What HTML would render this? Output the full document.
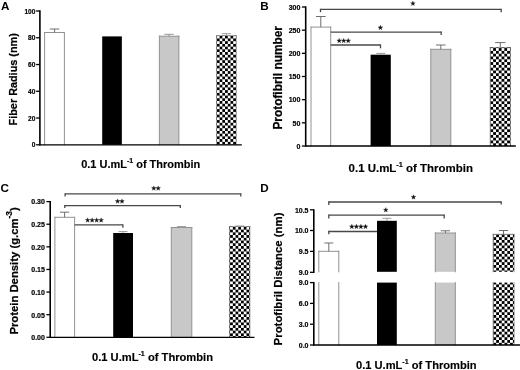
<!DOCTYPE html>
<html><head><meta charset="utf-8"><title>Figure</title>
<style>html,body{margin:0;padding:0;background:#fff;}body{width:520px;height:370px;overflow:hidden;font-family:"Liberation Sans",sans-serif;}svg{display:block;will-change:transform;filter:blur(0.4px);}</style>
</head><body>
<svg width="520" height="370" viewBox="0 0 520 370" font-family='"Liberation Sans", sans-serif'>
<rect width="520" height="370" fill="#fff"/>
<defs>
<pattern id="pa" x="216.9" y="35.75" width="5.44" height="5.44" patternUnits="userSpaceOnUse"><rect width="5.44" height="5.44" fill="#fff"/><rect x="2.72" y="0" width="2.72" height="2.72" fill="#000"/><rect x="0" y="2.72" width="2.72" height="2.72" fill="#000"/></pattern>
<pattern id="pb" x="490.35" y="48.1" width="5.6" height="5.6" patternUnits="userSpaceOnUse"><rect width="5.6" height="5.6" fill="#fff"/><rect x="2.8" y="0" width="2.8" height="2.8" fill="#000"/><rect x="0" y="2.8" width="2.8" height="2.8" fill="#000"/></pattern>
<pattern id="pc" x="230.1" y="226.9" width="5.46" height="5.46" patternUnits="userSpaceOnUse"><rect width="5.46" height="5.46" fill="#fff"/><rect x="2.73" y="0" width="2.73" height="2.73" fill="#000"/><rect x="0" y="2.73" width="2.73" height="2.73" fill="#000"/></pattern>
<pattern id="pd" x="493.4" y="234.4" width="5.56" height="5.56" patternUnits="userSpaceOnUse"><rect width="5.56" height="5.56" fill="#fff"/><rect x="2.78" y="0" width="2.78" height="2.78" fill="#000"/><rect x="0" y="2.78" width="2.78" height="2.78" fill="#000"/></pattern>
</defs>
<text x="1" y="9.8" font-size="11.7" font-weight="bold" text-anchor="start" fill="#000" >A</text>
<rect x="44.6" y="32.5" width="19.8" height="112.3" fill="#fff"/>
<path d="M44.6 144.8V32.5M44.6 32.5H64.4M64.4 32.5V144.8" fill="none" stroke="#929292" stroke-width="1.0" stroke-linecap="square"/>
<line x1="54.6" y1="29" x2="54.6" y2="32.5" stroke="#6e6e6e" stroke-width="1.0"/>
<line x1="49.9" y1="29" x2="59.3" y2="29" stroke="#6e6e6e" stroke-width="1.0"/>
<rect x="102.2" y="36.4" width="19.65" height="108.4" fill="#000"/>
<rect x="159.4" y="36.2" width="19.5" height="108.6" fill="#c8c8c8"/>
<path d="M159.4 144.8V36.2M159.4 36.2H178.9M178.9 36.2V144.8" fill="none" stroke="#929292" stroke-width="1.0" stroke-linecap="square"/>
<line x1="169" y1="34.3" x2="169" y2="36.2" stroke="#808080" stroke-width="0.8"/>
<line x1="164.3" y1="34.3" x2="173.7" y2="34.3" stroke="#808080" stroke-width="0.8"/>
<rect x="216.6" y="35.7" width="19.6" height="109.1" fill="url(#pa)"/>
<path d="M216.6 144.8V35.7M216.6 35.7H236.2M236.2 35.7V144.8" fill="none" stroke="#444" stroke-width="0.5" stroke-linecap="square"/>
<line x1="226.4" y1="33.7" x2="226.4" y2="35.7" stroke="#858585" stroke-width="0.8"/>
<line x1="221.8" y1="33.7" x2="231" y2="33.7" stroke="#858585" stroke-width="0.8"/>
<line x1="39.9" y1="10.35" x2="39.9" y2="145.6" stroke="#000" stroke-width="1.6"/>
<line x1="36.1" y1="144.8" x2="39.9" y2="144.8" stroke="#000" stroke-width="1.3"/>
<text x="35.4" y="147.48" font-size="6.6" font-weight="bold" text-anchor="end" fill="#000" stroke="#000" stroke-width="0.18">0</text>
<line x1="36.1" y1="118.04" x2="39.9" y2="118.04" stroke="#000" stroke-width="1.3"/>
<text x="35.4" y="120.72" font-size="6.6" font-weight="bold" text-anchor="end" fill="#000" stroke="#000" stroke-width="0.18">20</text>
<line x1="36.1" y1="91.28" x2="39.9" y2="91.28" stroke="#000" stroke-width="1.3"/>
<text x="35.4" y="93.96" font-size="6.6" font-weight="bold" text-anchor="end" fill="#000" stroke="#000" stroke-width="0.18">40</text>
<line x1="36.1" y1="64.52" x2="39.9" y2="64.52" stroke="#000" stroke-width="1.3"/>
<text x="35.4" y="67.2" font-size="6.6" font-weight="bold" text-anchor="end" fill="#000" stroke="#000" stroke-width="0.18">60</text>
<line x1="36.1" y1="37.76" x2="39.9" y2="37.76" stroke="#000" stroke-width="1.3"/>
<text x="35.4" y="40.44" font-size="6.6" font-weight="bold" text-anchor="end" fill="#000" stroke="#000" stroke-width="0.18">80</text>
<line x1="36.1" y1="11" x2="39.9" y2="11" stroke="#000" stroke-width="1.3"/>
<text x="35.4" y="13.68" font-size="6.6" font-weight="bold" text-anchor="end" fill="#000" stroke="#000" stroke-width="0.18">100</text>
<line x1="39.9" y1="144.9" x2="241.8" y2="144.9" stroke="#000" stroke-width="1.35"/>
<text transform="translate(17.4,125.4) rotate(-90)" font-size="11.6" font-weight="bold" stroke="#000" stroke-width="0.22" textLength="92.2" lengthAdjust="spacingAndGlyphs">Fiber Radius (nm)</text>
<text x="81.2" y="168.3" font-size="11.5" font-weight="bold" stroke="#000" stroke-width="0.15" textLength="119" lengthAdjust="spacingAndGlyphs">0.1 U.mL<tspan font-size="7.36" dy="-4.83">-1</tspan><tspan dy="4.83"> of Thrombin</tspan></text>
<text x="260.3" y="9.9" font-size="11.7" font-weight="bold" text-anchor="start" fill="#000" >B</text>
<rect x="311" y="27.1" width="19.7" height="118.9" fill="#fff"/>
<path d="M311 146V27.1M311 27.1H330.7M330.7 27.1V146" fill="none" stroke="#929292" stroke-width="1.0" stroke-linecap="square"/>
<line x1="320.8" y1="16.5" x2="320.8" y2="27.1" stroke="#6e6e6e" stroke-width="1.0"/>
<line x1="315.95" y1="16.5" x2="325.65" y2="16.5" stroke="#6e6e6e" stroke-width="1.0"/>
<rect x="370.6" y="54.7" width="20.2" height="91.3" fill="#000"/>
<line x1="380.8" y1="53.4" x2="380.8" y2="54.5" stroke="#999" stroke-width="1.0"/>
<line x1="376.3" y1="53.4" x2="385.3" y2="53.4" stroke="#999" stroke-width="1.0"/>
<rect x="430.8" y="49.3" width="20" height="96.7" fill="#c8c8c8"/>
<path d="M430.8 146V49.3M430.8 49.3H450.8M450.8 49.3V146" fill="none" stroke="#929292" stroke-width="1.0" stroke-linecap="square"/>
<line x1="440.8" y1="45" x2="440.8" y2="49.3" stroke="#6e6e6e" stroke-width="1.0"/>
<line x1="436" y1="45" x2="445.6" y2="45" stroke="#6e6e6e" stroke-width="1.0"/>
<rect x="490.2" y="47.5" width="20.3" height="98.5" fill="url(#pb)"/>
<path d="M490.2 146V47.5M490.2 47.5H510.5M510.5 47.5V146" fill="none" stroke="#444" stroke-width="0.5" stroke-linecap="square"/>
<line x1="500.3" y1="42.6" x2="500.3" y2="47.5" stroke="#6e6e6e" stroke-width="1.0"/>
<line x1="495.1" y1="42.6" x2="505.5" y2="42.6" stroke="#6e6e6e" stroke-width="1.0"/>
<line x1="305.7" y1="6.35" x2="305.7" y2="146.8" stroke="#000" stroke-width="1.6"/>
<line x1="301.9" y1="146" x2="305.7" y2="146" stroke="#000" stroke-width="1.3"/>
<text x="300.4" y="148.82" font-size="7.0" font-weight="bold" text-anchor="end" fill="#000" stroke="#000" stroke-width="0.18">0</text>
<line x1="301.9" y1="122.83" x2="305.7" y2="122.83" stroke="#000" stroke-width="1.3"/>
<text x="300.4" y="125.65" font-size="7.0" font-weight="bold" text-anchor="end" fill="#000" stroke="#000" stroke-width="0.18">50</text>
<line x1="301.9" y1="99.67" x2="305.7" y2="99.67" stroke="#000" stroke-width="1.3"/>
<text x="300.4" y="102.49" font-size="7.0" font-weight="bold" text-anchor="end" fill="#000" stroke="#000" stroke-width="0.18">100</text>
<line x1="301.9" y1="76.5" x2="305.7" y2="76.5" stroke="#000" stroke-width="1.3"/>
<text x="300.4" y="79.32" font-size="7.0" font-weight="bold" text-anchor="end" fill="#000" stroke="#000" stroke-width="0.18">150</text>
<line x1="301.9" y1="53.33" x2="305.7" y2="53.33" stroke="#000" stroke-width="1.3"/>
<text x="300.4" y="56.15" font-size="7.0" font-weight="bold" text-anchor="end" fill="#000" stroke="#000" stroke-width="0.18">200</text>
<line x1="301.9" y1="30.17" x2="305.7" y2="30.17" stroke="#000" stroke-width="1.3"/>
<text x="300.4" y="32.99" font-size="7.0" font-weight="bold" text-anchor="end" fill="#000" stroke="#000" stroke-width="0.18">250</text>
<line x1="301.9" y1="7" x2="305.7" y2="7" stroke="#000" stroke-width="1.3"/>
<text x="300.4" y="9.82" font-size="7.0" font-weight="bold" text-anchor="end" fill="#000" stroke="#000" stroke-width="0.18">300</text>
<line x1="305.7" y1="146" x2="515.8" y2="146" stroke="#000" stroke-width="1.35"/>
<text transform="translate(281.7,129.6) rotate(-90)" font-size="11.9" font-weight="bold" stroke="#000" stroke-width="0.22" textLength="103.6" lengthAdjust="spacingAndGlyphs">Protofibril number</text>
<text x="348.6" y="171.6" font-size="11.5" font-weight="bold" stroke="#000" stroke-width="0.15" textLength="124.3" lengthAdjust="spacingAndGlyphs">0.1 U.mL<tspan font-size="7.36" dy="-4.83">-1</tspan><tspan dy="4.83"> of Thrombin</tspan></text>
<line x1="320.5" y1="9.4" x2="501.2" y2="9.4" stroke="#484848" stroke-width="1.3"/>
<line x1="320.5" y1="8.75" x2="320.5" y2="12.2" stroke="#484848" stroke-width="1.3"/>
<line x1="501.2" y1="8.75" x2="501.2" y2="12.2" stroke="#484848" stroke-width="1.3"/>
<line x1="330.8" y1="32.2" x2="441.2" y2="32.2" stroke="#484848" stroke-width="1.3"/>
<line x1="441.2" y1="31.55" x2="441.2" y2="35" stroke="#484848" stroke-width="1.3"/>
<line x1="330.8" y1="45" x2="380.5" y2="45" stroke="#484848" stroke-width="1.3"/>
<line x1="380.5" y1="44.35" x2="380.5" y2="48.4" stroke="#484848" stroke-width="1.3"/>
<polygon points="412.90,1.10 413.49,2.74 415.23,2.79 413.85,3.86 414.34,5.53 412.90,4.55 411.46,5.53 411.95,3.86 410.57,2.79 412.31,2.74" fill="#111" stroke="#111" stroke-width="0.3" stroke-linejoin="round"/>
<polygon points="380.40,25.20 380.99,26.84 382.73,26.89 381.35,27.96 381.84,29.63 380.40,28.65 378.96,29.63 379.45,27.96 378.07,26.89 379.81,26.84" fill="#111" stroke="#111" stroke-width="0.3" stroke-linejoin="round"/>
<polygon points="339.20,38.30 339.79,39.94 341.53,39.99 340.15,41.06 340.64,42.73 339.20,41.75 337.76,42.73 338.25,41.06 336.87,39.99 338.61,39.94" fill="#111" stroke="#111" stroke-width="0.3" stroke-linejoin="round"/>
<polygon points="343.70,38.30 344.29,39.94 346.03,39.99 344.65,41.06 345.14,42.73 343.70,41.75 342.26,42.73 342.75,41.06 341.37,39.99 343.11,39.94" fill="#111" stroke="#111" stroke-width="0.3" stroke-linejoin="round"/>
<polygon points="348.20,38.30 348.79,39.94 350.53,39.99 349.15,41.06 349.64,42.73 348.20,41.75 346.76,42.73 347.25,41.06 345.87,39.99 347.61,39.94" fill="#111" stroke="#111" stroke-width="0.3" stroke-linejoin="round"/>
<text x="0.5" y="192" font-size="11.7" font-weight="bold" text-anchor="start" fill="#000" >C</text>
<rect x="54.9" y="217.3" width="19.7" height="120" fill="#fff"/>
<path d="M54.9 337.3V217.3M54.9 217.3H74.6M74.6 217.3V337.3" fill="none" stroke="#929292" stroke-width="1.0" stroke-linecap="square"/>
<line x1="64.6" y1="212.2" x2="64.6" y2="217.3" stroke="#6e6e6e" stroke-width="1.0"/>
<line x1="60" y1="212.2" x2="69.2" y2="212.2" stroke="#6e6e6e" stroke-width="1.0"/>
<rect x="113.2" y="233" width="19.8" height="104.3" fill="#000"/>
<line x1="123" y1="231.6" x2="123" y2="233" stroke="#999" stroke-width="1.0"/>
<line x1="118.5" y1="231.6" x2="127.5" y2="231.6" stroke="#999" stroke-width="1.0"/>
<rect x="171.3" y="227.5" width="20.5" height="109.8" fill="#c8c8c8"/>
<path d="M171.3 337.3V227.5M171.3 227.5H191.8M191.8 227.5V337.3" fill="none" stroke="#929292" stroke-width="1.0" stroke-linecap="square"/>
<line x1="181.5" y1="226.6" x2="181.5" y2="227.5" stroke="#999" stroke-width="1.0"/>
<line x1="177" y1="226.6" x2="186" y2="226.6" stroke="#999" stroke-width="1.0"/>
<rect x="229.5" y="226.6" width="20.4" height="110.7" fill="url(#pc)"/>
<path d="M229.5 337.3V226.6M229.5 226.6H249.9M249.9 226.6V337.3" fill="none" stroke="#444" stroke-width="0.5" stroke-linecap="square"/>
<line x1="239.8" y1="226" x2="239.8" y2="226.8" stroke="#999" stroke-width="1.0"/>
<line x1="235.3" y1="226" x2="244.3" y2="226" stroke="#999" stroke-width="1.0"/>
<line x1="50.2" y1="200.95" x2="50.2" y2="338.1" stroke="#000" stroke-width="1.6"/>
<line x1="46.4" y1="337.3" x2="50.2" y2="337.3" stroke="#000" stroke-width="1.3"/>
<text x="44.9" y="340.12" font-size="7.0" font-weight="bold" text-anchor="end" fill="#000" stroke="#000" stroke-width="0.18">0.00</text>
<line x1="46.4" y1="314.68" x2="50.2" y2="314.68" stroke="#000" stroke-width="1.3"/>
<text x="44.9" y="317.5" font-size="7.0" font-weight="bold" text-anchor="end" fill="#000" stroke="#000" stroke-width="0.18">0.05</text>
<line x1="46.4" y1="292.07" x2="50.2" y2="292.07" stroke="#000" stroke-width="1.3"/>
<text x="44.9" y="294.89" font-size="7.0" font-weight="bold" text-anchor="end" fill="#000" stroke="#000" stroke-width="0.18">0.10</text>
<line x1="46.4" y1="269.45" x2="50.2" y2="269.45" stroke="#000" stroke-width="1.3"/>
<text x="44.9" y="272.27" font-size="7.0" font-weight="bold" text-anchor="end" fill="#000" stroke="#000" stroke-width="0.18">0.15</text>
<line x1="46.4" y1="246.83" x2="50.2" y2="246.83" stroke="#000" stroke-width="1.3"/>
<text x="44.9" y="249.65" font-size="7.0" font-weight="bold" text-anchor="end" fill="#000" stroke="#000" stroke-width="0.18">0.20</text>
<line x1="46.4" y1="224.22" x2="50.2" y2="224.22" stroke="#000" stroke-width="1.3"/>
<text x="44.9" y="227.04" font-size="7.0" font-weight="bold" text-anchor="end" fill="#000" stroke="#000" stroke-width="0.18">0.25</text>
<line x1="46.4" y1="201.6" x2="50.2" y2="201.6" stroke="#000" stroke-width="1.3"/>
<text x="44.9" y="204.42" font-size="7.0" font-weight="bold" text-anchor="end" fill="#000" stroke="#000" stroke-width="0.18">0.30</text>
<line x1="50.2" y1="337.3" x2="254.5" y2="337.3" stroke="#000" stroke-width="1.35"/>
<text transform="translate(17.6,334.6) rotate(-90)" font-size="11.6" font-weight="bold" stroke="#000" stroke-width="0.22" textLength="127.4" lengthAdjust="spacingAndGlyphs">Protein Density (g.cm<tspan font-size="8.6" dy="-6">-3</tspan><tspan dy="6">)</tspan></text>
<text x="92" y="360.8" font-size="11.5" font-weight="bold" stroke="#000" stroke-width="0.15" textLength="121" lengthAdjust="spacingAndGlyphs">0.1 U.mL<tspan font-size="7.36" dy="-4.83">-1</tspan><tspan dy="4.83"> of Thrombin</tspan></text>
<line x1="65.1" y1="193.8" x2="240.8" y2="193.8" stroke="#484848" stroke-width="1.3"/>
<line x1="65.1" y1="193.15" x2="65.1" y2="196.6" stroke="#484848" stroke-width="1.3"/>
<line x1="240.8" y1="193.15" x2="240.8" y2="196.6" stroke="#484848" stroke-width="1.3"/>
<line x1="64.8" y1="205.6" x2="180.3" y2="205.6" stroke="#484848" stroke-width="1.3"/>
<line x1="64.8" y1="204.95" x2="64.8" y2="208" stroke="#484848" stroke-width="1.3"/>
<line x1="180.3" y1="204.95" x2="180.3" y2="208" stroke="#484848" stroke-width="1.3"/>
<line x1="74.6" y1="224.8" x2="122.9" y2="224.8" stroke="#484848" stroke-width="1.3"/>
<line x1="122.9" y1="224.15" x2="122.9" y2="227.7" stroke="#484848" stroke-width="1.3"/>
<polygon points="153.80,185.90 154.39,187.54 156.13,187.59 154.75,188.66 155.24,190.33 153.80,189.35 152.36,190.33 152.85,188.66 151.47,187.59 153.21,187.54" fill="#111" stroke="#111" stroke-width="0.3" stroke-linejoin="round"/>
<polygon points="158.20,185.90 158.79,187.54 160.53,187.59 159.15,188.66 159.64,190.33 158.20,189.35 156.76,190.33 157.25,188.66 155.87,187.59 157.61,187.54" fill="#111" stroke="#111" stroke-width="0.3" stroke-linejoin="round"/>
<polygon points="117.60,198.90 118.19,200.54 119.93,200.59 118.55,201.66 119.04,203.33 117.60,202.35 116.16,203.33 116.65,201.66 115.27,200.59 117.01,200.54" fill="#111" stroke="#111" stroke-width="0.3" stroke-linejoin="round"/>
<polygon points="122.00,198.90 122.59,200.54 124.33,200.59 122.95,201.66 123.44,203.33 122.00,202.35 120.56,203.33 121.05,201.66 119.67,200.59 121.41,200.54" fill="#111" stroke="#111" stroke-width="0.3" stroke-linejoin="round"/>
<polygon points="87.65,217.80 88.24,219.44 89.98,219.49 88.60,220.56 89.09,222.23 87.65,221.25 86.21,222.23 86.70,220.56 85.32,219.49 87.06,219.44" fill="#111" stroke="#111" stroke-width="0.3" stroke-linejoin="round"/>
<polygon points="92.15,217.80 92.74,219.44 94.48,219.49 93.10,220.56 93.59,222.23 92.15,221.25 90.71,222.23 91.20,220.56 89.82,219.49 91.56,219.44" fill="#111" stroke="#111" stroke-width="0.3" stroke-linejoin="round"/>
<polygon points="96.65,217.80 97.24,219.44 98.98,219.49 97.60,220.56 98.09,222.23 96.65,221.25 95.21,222.23 95.70,220.56 94.32,219.49 96.06,219.44" fill="#111" stroke="#111" stroke-width="0.3" stroke-linejoin="round"/>
<polygon points="101.15,217.80 101.74,219.44 103.48,219.49 102.10,220.56 102.59,222.23 101.15,221.25 99.71,222.23 100.20,220.56 98.82,219.49 100.56,219.44" fill="#111" stroke="#111" stroke-width="0.3" stroke-linejoin="round"/>
<text x="260.3" y="191.9" font-size="11.7" font-weight="bold" text-anchor="start" fill="#000" >D</text>
<rect x="318.8" y="251.3" width="20" height="20.5" fill="#fff"/>
<path d="M318.8 271.8V251.3M318.8 251.3H338.8M338.8 251.3V271.8" fill="none" stroke="#929292" stroke-width="1.0" stroke-linecap="square"/>
<line x1="328.8" y1="243" x2="328.8" y2="251.3" stroke="#6e6e6e" stroke-width="1.0"/>
<line x1="324.3" y1="243" x2="333.3" y2="243" stroke="#6e6e6e" stroke-width="1.0"/>
<rect x="377" y="220.8" width="19.8" height="51" fill="#000"/>
<line x1="386.9" y1="218.3" x2="386.9" y2="220.8" stroke="#999" stroke-width="1.0"/>
<line x1="382.4" y1="218.3" x2="391.4" y2="218.3" stroke="#999" stroke-width="1.0"/>
<rect x="435.3" y="233" width="20" height="38.8" fill="#c8c8c8"/>
<path d="M435.3 271.8V233M435.3 233H455.3M455.3 233V271.8" fill="none" stroke="#929292" stroke-width="1.0" stroke-linecap="square"/>
<line x1="445.4" y1="230.8" x2="445.4" y2="233" stroke="#6e6e6e" stroke-width="1.0"/>
<line x1="440.8" y1="230.8" x2="450" y2="230.8" stroke="#6e6e6e" stroke-width="1.0"/>
<rect x="493.1" y="234.3" width="21" height="37.5" fill="url(#pd)"/>
<path d="M493.1 271.8V234.3M493.1 234.3H514.1M514.1 234.3V271.8" fill="none" stroke="#444" stroke-width="0.5" stroke-linecap="square"/>
<line x1="503.5" y1="230.5" x2="503.5" y2="234.3" stroke="#6e6e6e" stroke-width="1.0"/>
<line x1="498.9" y1="230.5" x2="508.1" y2="230.5" stroke="#6e6e6e" stroke-width="1.0"/>
<line x1="313.8" y1="209.15" x2="313.8" y2="273.1" stroke="#000" stroke-width="1.6"/>
<line x1="310" y1="272.3" x2="313.8" y2="272.3" stroke="#000" stroke-width="1.3"/>
<text x="308.5" y="275.12" font-size="7.0" font-weight="bold" text-anchor="end" fill="#000" stroke="#000" stroke-width="0.18">9.0</text>
<line x1="310" y1="251.4" x2="313.8" y2="251.4" stroke="#000" stroke-width="1.3"/>
<text x="308.5" y="254.22" font-size="7.0" font-weight="bold" text-anchor="end" fill="#000" stroke="#000" stroke-width="0.18">9.5</text>
<line x1="310" y1="230.5" x2="313.8" y2="230.5" stroke="#000" stroke-width="1.3"/>
<text x="308.5" y="233.32" font-size="7.0" font-weight="bold" text-anchor="end" fill="#000" stroke="#000" stroke-width="0.18">10.0</text>
<line x1="310" y1="209.8" x2="313.8" y2="209.8" stroke="#000" stroke-width="1.3"/>
<text x="308.5" y="212.62" font-size="7.0" font-weight="bold" text-anchor="end" fill="#000" stroke="#000" stroke-width="0.18">10.5</text>
<rect x="318.8" y="282.6" width="20" height="62.4" fill="#fff"/>
<path d="M318.8 345V282.6M338.8 282.6V345" fill="none" stroke="#929292" stroke-width="1.0" stroke-linecap="square"/>
<rect x="377" y="282.6" width="19.8" height="62.4" fill="#000"/>
<rect x="435.3" y="282.6" width="20" height="62.4" fill="#c8c8c8"/>
<path d="M435.3 345V282.6M455.3 282.6V345" fill="none" stroke="#929292" stroke-width="1.0" stroke-linecap="square"/>
<rect x="493.1" y="282.6" width="21" height="62.4" fill="url(#pd)"/>
<path d="M493.1 345V282.6M514.1 282.6V345" fill="none" stroke="#444" stroke-width="0.5" stroke-linecap="square"/>
<line x1="313.8" y1="281.95" x2="313.8" y2="345.8" stroke="#000" stroke-width="1.6"/>
<line x1="310" y1="345" x2="313.8" y2="345" stroke="#000" stroke-width="1.3"/>
<text x="308.5" y="347.82" font-size="7.0" font-weight="bold" text-anchor="end" fill="#000" stroke="#000" stroke-width="0.18">0.0</text>
<line x1="310" y1="324.2" x2="313.8" y2="324.2" stroke="#000" stroke-width="1.3"/>
<text x="308.5" y="327.02" font-size="7.0" font-weight="bold" text-anchor="end" fill="#000" stroke="#000" stroke-width="0.18">3.0</text>
<line x1="310" y1="303.4" x2="313.8" y2="303.4" stroke="#000" stroke-width="1.3"/>
<text x="308.5" y="306.22" font-size="7.0" font-weight="bold" text-anchor="end" fill="#000" stroke="#000" stroke-width="0.18">6.0</text>
<line x1="310" y1="282.6" x2="313.8" y2="282.6" stroke="#000" stroke-width="1.3"/>
<text x="308.5" y="285.42" font-size="7.0" font-weight="bold" text-anchor="end" fill="#000" stroke="#000" stroke-width="0.18">9.0</text>
<line x1="313.8" y1="345" x2="520" y2="345" stroke="#000" stroke-width="1.35"/>
<text transform="translate(281.8,345.4) rotate(-90)" font-size="11.8" font-weight="bold" stroke="#000" stroke-width="0.22" textLength="132.9" lengthAdjust="spacingAndGlyphs">Protofibril Distance (nm)</text>
<text x="356" y="368.5" font-size="11.5" font-weight="bold" stroke="#000" stroke-width="0.15" textLength="120.6" lengthAdjust="spacingAndGlyphs">0.1 U.mL<tspan font-size="7.36" dy="-4.83">-1</tspan><tspan dy="4.83"> of Thrombin</tspan></text>
<line x1="328.8" y1="202" x2="501.2" y2="202" stroke="#484848" stroke-width="1.3"/>
<line x1="328.8" y1="201.35" x2="328.8" y2="205" stroke="#484848" stroke-width="1.3"/>
<line x1="501.2" y1="201.35" x2="501.2" y2="204.6" stroke="#484848" stroke-width="1.3"/>
<line x1="328.8" y1="215.2" x2="444.2" y2="215.2" stroke="#484848" stroke-width="1.3"/>
<line x1="328.8" y1="214.55" x2="328.8" y2="218.4" stroke="#484848" stroke-width="1.3"/>
<line x1="444.2" y1="214.55" x2="444.2" y2="218.4" stroke="#484848" stroke-width="1.3"/>
<line x1="328.8" y1="231.5" x2="377" y2="231.5" stroke="#484848" stroke-width="1.3"/>
<line x1="328.8" y1="230.85" x2="328.8" y2="234.3" stroke="#484848" stroke-width="1.3"/>
<polygon points="413.50,194.70 414.09,196.34 415.83,196.39 414.45,197.46 414.94,199.13 413.50,198.15 412.06,199.13 412.55,197.46 411.17,196.39 412.91,196.34" fill="#111" stroke="#111" stroke-width="0.3" stroke-linejoin="round"/>
<polygon points="385.80,207.60 386.39,209.24 388.13,209.29 386.75,210.36 387.24,212.03 385.80,211.05 384.36,212.03 384.85,210.36 383.47,209.29 385.21,209.24" fill="#111" stroke="#111" stroke-width="0.3" stroke-linejoin="round"/>
<polygon points="351.82,224.20 352.41,225.84 354.16,225.89 352.78,226.96 353.27,228.63 351.82,227.65 350.38,228.63 350.87,226.96 349.49,225.89 351.24,225.84" fill="#111" stroke="#111" stroke-width="0.3" stroke-linejoin="round"/>
<polygon points="356.38,224.20 356.96,225.84 358.71,225.89 357.33,226.96 357.82,228.63 356.38,227.65 354.93,228.63 355.42,226.96 354.04,225.89 355.79,225.84" fill="#111" stroke="#111" stroke-width="0.3" stroke-linejoin="round"/>
<polygon points="360.93,224.20 361.51,225.84 363.26,225.89 361.88,226.96 362.37,228.63 360.93,227.65 359.48,228.63 359.97,226.96 358.59,225.89 360.34,225.84" fill="#111" stroke="#111" stroke-width="0.3" stroke-linejoin="round"/>
<polygon points="365.47,224.20 366.06,225.84 367.81,225.89 366.43,226.96 366.92,228.63 365.47,227.65 364.03,228.63 364.52,226.96 363.14,225.89 364.89,225.84" fill="#111" stroke="#111" stroke-width="0.3" stroke-linejoin="round"/>
</svg>
</body></html>
